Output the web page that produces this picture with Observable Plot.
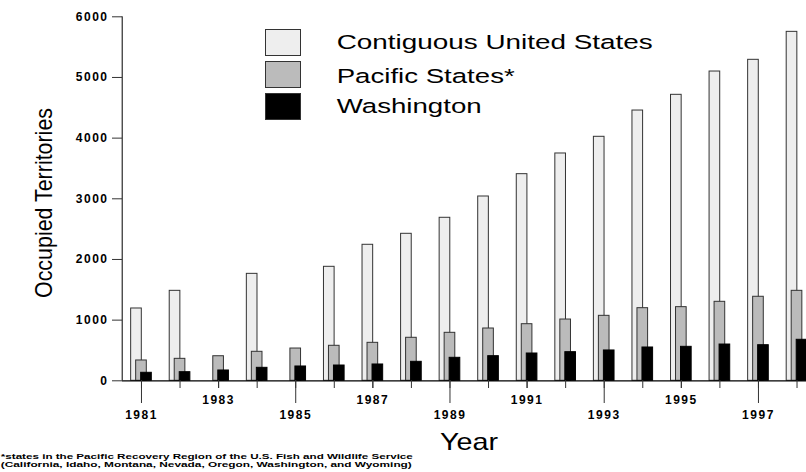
<!DOCTYPE html>
<html>
<head>
<meta charset="utf-8">
<script src="https://cdn.jsdelivr.net/npm/d3@7"></script>
<script src="https://cdn.jsdelivr.net/npm/@observablehq/plot@0.6"></script>
<style>
  html, body { margin: 0; padding: 0; background: #fff; }
  #chart svg { overflow: hidden; display: block; }
  #chart g[aria-label="y-axis tick label"] text,
  #chart g[aria-label="x-axis tick label"] text { letter-spacing: 1.5px; }
</style>
</head>
<body>
<div id="chart"></div>
<script>
const years = [1981, 1982, 1983, 1984, 1985, 1986, 1987, 1988, 1989, 1990, 1991, 1992, 1993, 1994, 1995, 1996, 1997, 1998];
const contiguous = [1192, 1483, null, 1763, null, 1879, 2242, 2423, 2687, 3038, 3406, 3747, 4022, 4455, 4714, 5098, 5291, 5752];
const pacific = [335, 362, 405, 478, 532, 577, 626, 709, 791, 862, 933, 1010, 1071, 1197, 1214, 1302, 1385, 1483];
const washington = [132, 142, 170, 214, 236, 252, 269, 313, 379, 406, 450, 472, 500, 549, 560, 598, 587, 676];
const seriesNames = ["Contiguous United States", "Pacific States*", "Washington"];
const seriesFill = ["#eeeeee", "#bbbbbb", "#000000"];
const yTicks = [0, 1000, 2000, 3000, 4000, 5000, 6000];
const labelYearsLow = [1981, 1985, 1989, 1993, 1997];
const labelYearsHigh = [1983, 1987, 1991, 1995];
const footnote = [
  "*states in the Pacific Recovery Region of the U.S. Fish and Wildlife Service",
  "(California, Idaho, Montana, Nevada, Oregon, Washington, and Wyoming)"
];

const toRows = (vals) => years.map((year, i) => ({year, value: vals[i]})).filter(d => d.value != null);
const rowsC = toRows(contiguous), rowsP = toRows(pacific), rowsW = toRows(washington);
const hw = 0.138; // half bar width in years

const chart = Plot.plot({
  width: 806,
  height: 472,
  marginTop: 16,
  marginBottom: 92,
  marginLeft: 122,
  marginRight: 0,
  style: {fontFamily: "'Liberation Sans', Arial, sans-serif", fontSize: "12px", fontWeight: "bold", color: "#000"},
  x: {type: "linear", domain: [1980.5, 1998.5], range: [121.7, 815.8], label: null},
  y: {domain: [0, 6000], range: [380.3, 16.3], label: null},
  marks: [
    Plot.rectY(rowsC, {x1: d => d.year - hw, x2: d => d.year + hw, y: "value", dx: -5, fill: seriesFill[0], stroke: "#333", strokeWidth: 1}),
    Plot.rectY(rowsP, {x1: d => d.year - hw, x2: d => d.year + hw, y: "value", fill: seriesFill[1], stroke: "#333", strokeWidth: 1}),
    Plot.rectY(rowsW, {x1: d => d.year - hw, x2: d => d.year + hw, y: "value", dx: 5, fill: seriesFill[2], stroke: "#000", strokeWidth: 1}),
    Plot.ruleX([1980.5], {y1: 0, y2: 6000, stroke: "#000", strokeWidth: 1}),
    Plot.ruleY([0], {stroke: "#000", strokeWidth: 1.2}),
    Plot.axisY({ticks: yTicks, tickSize: 10, tickPadding: 4, tickFormat: d => String(d), fontSize: 12, label: null, stroke: "#333"}),
    Plot.axisX({ticks: years, tickSize: 8, tickFormat: () => "", label: null, stroke: "#333"}),
    Plot.axisX({ticks: labelYearsLow, tickSize: 23, tickPadding: 7, tickFormat: d => String(d), fontSize: 12, label: null, stroke: "#333"}),
    Plot.axisX({ticks: labelYearsHigh, tickSize: 8, tickPadding: 7, tickFormat: d => String(d), fontSize: 12, label: null, stroke: "#333"})
  ]
});

document.getElementById("chart").appendChild(chart);
const svg = d3.select(chart);
const font = "'Liberation Sans', Arial, sans-serif";

// Legend
const legend = svg.append("g").attr("text-anchor", "start");
const legendTextLen = [316, 178, 145];
const legendBase = [49.3, 82.7, 113.3];
seriesNames.forEach((name, i) => {
  legend.append("rect")
    .attr("x", 265.5).attr("y", 29.5 + i * 32).attr("width", 35).attr("height", 26)
    .attr("fill", seriesFill[i]).attr("stroke", "#333").attr("stroke-width", 1);
  legend.append("text")
    .attr("x", 336.7).attr("y", legendBase[i])
    .attr("text-anchor", "start")
    .attr("font-family", font).attr("font-size", 20.5).attr("font-weight", "normal")
    .attr("textLength", legendTextLen[i]).attr("lengthAdjust", "spacingAndGlyphs")
    .attr("fill", "#000")
    .text(name);
});

// Y axis title
svg.append("text")
  .attr("transform", "translate(52,203) rotate(-90)")
  .attr("text-anchor", "middle")
  .attr("font-family", "'Liberation Sans Narrow', 'Arial Narrow', 'Liberation Sans', Arial, sans-serif")
  .attr("font-size", 24).attr("font-weight", "normal")
  .attr("textLength", 190).attr("lengthAdjust", "spacingAndGlyphs")
  .text("Occupied Territories");

// X axis title
svg.append("text")
  .attr("x", 440).attr("y", 450)
  .attr("text-anchor", "start")
  .attr("font-family", font).attr("font-size", 24).attr("font-weight", "normal")
  .attr("textLength", 58).attr("lengthAdjust", "spacingAndGlyphs")
  .text("Year");

// Footnote
const fnLen = [412, 411];
const fnBase = [458.5, 466.5];
footnote.forEach((line, i) => {
  svg.append("text")
    .attr("x", 0.8).attr("y", fnBase[i])
    .attr("text-anchor", "start")
    .attr("font-family", font).attr("font-size", 7.2).attr("font-weight", "bold")
    .attr("textLength", fnLen[i]).attr("lengthAdjust", "spacingAndGlyphs")
    .text(line);
});
</script>
</body>
</html>
